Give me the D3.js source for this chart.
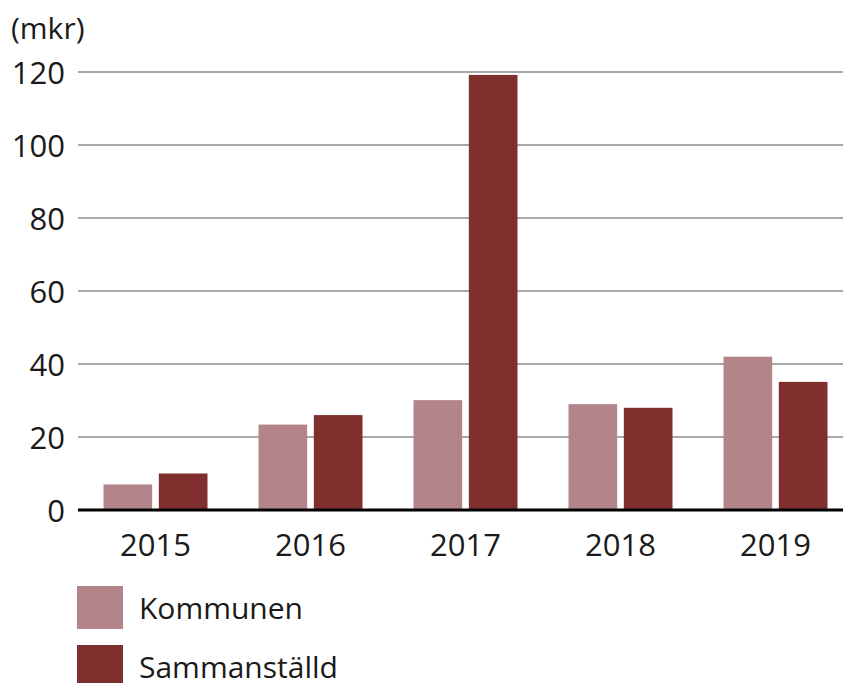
<!DOCTYPE html>
<html>
<head>
<meta charset="utf-8">
<script src="https://cdn.jsdelivr.net/npm/d3@7"></script>
<style>
  body { margin: 0; background: #fff; }
  text { font-family: "Open Sans", sans-serif; fill: #1a1a1a; }
</style>
</head>
<body>
<svg id="chart" width="843" height="683"></svg>
<script>
var svg = d3.select("#chart");

var width = +svg.attr("width");
var height = +svg.attr("height");

// data
var years = ["2015", "2016", "2017", "2018", "2019"];
var kommunen = [7, 23.4, 30.1, 29, 42];
var sammanstalld = [10, 26, 119.2, 28, 35.1];
var seriesNames = ["Kommunen", "Sammanställd"];
var yTicks = [0, 20, 40, 60, 80, 100, 120];

var colors = ["#b38489", "#7f2f2d"];

var left = 78;
var bandWidth = 155;

var xScale = d3.scaleBand()
  .domain(years)
  .range([left, left + bandWidth * years.length])
  .paddingInner(0)
  .paddingOuter(0);

var yScale = d3.scaleLinear()
  .domain([0, 120])
  .range([510, 72]);

// inner scale for the two bars in each year
var subScale = d3.scaleBand()
  .domain(seriesNames)
  .range([25.5, bandWidth - 25.5])
  .paddingInner(0.12);

//gridlines
svg.append("g")
  .selectAll("line")
  .data(yTicks.filter(function (d) { return d > 0; }))
  .enter().append("line")
  .attr("x1", left)
  .attr("x2", width)
  .attr("y1", function (d) { return yScale(d); })
  .attr("y2", function (d) { return yScale(d); })
  .attr("stroke", "#555")
  .attr("stroke-width", 1.2);

//y tick labels
svg.append("g")
  .selectAll("text")
  .data(yTicks)
  .enter().append("text")
  .attr("x", 65)
  .attr("y", function (d) { return yScale(d) + 12; })
  .attr("text-anchor", "end")
  .style("font-size", "31px")
  .text(function (d) { return d; });

svg.append("text")
  .attr("x", 11)
  .attr("y", 39)
  .style("font-size", "30px")
  .text("(mkr)");

// bars
var rows = years.map(function (y, i) {
  return { year: y, values: [kommunen[i], sammanstalld[i]] };
});

var groups = svg.append("g")
  .selectAll("g")
  .data(rows)
  .enter().append("g")
  .attr("transform", function (d) { return "translate(" + xScale(d.year) + ",0)"; });

groups.selectAll("rect")
  .data(function (d) { return d.values.map(function (v, j) { return { name: seriesNames[j], value: v, idx: j }; }); })
  .enter().append("rect")
  .attr("x", function (d) { return subScale(d.name); })
  .attr("width", subScale.bandwidth())
  .attr("y", function (d) { return yScale(d.value); })
  .attr("height", function (d) { return yScale(0) - yScale(d.value); })
  .attr("fill", function (d) { return colors[d.idx]; });

//baseline
svg.append("line")
  .attr("x1", left)
  .attr("x2", width)
  .attr("y1", yScale(0))
  .attr("y2", yScale(0))
  .attr("stroke", "#000")
  .attr("stroke-width", 3);

//x axis labels
var bottomAxis = d3.axisBottom(xScale).tickSize(0).tickPadding(0);
var xAxis = svg.append("g")
  .attr("transform", "translate(0," + (yScale(0) + 46) + ")")
  .call(bottomAxis);
xAxis.select(".domain").remove();
xAxis.selectAll("text")
  .attr("dy", 0)
  .attr("y", 0)
  .style("font-family", "\"Open Sans\", sans-serif")
  .style("font-size", "31px")
  .style("fill", "#1a1a1a");

// legend
var legend = svg.append("g")
  .selectAll("g")
  .data(seriesNames)
  .enter().append("g")
  .attr("transform", function (d, i) { return "translate(77," + (586 + i * 59) + ")"; });

legend.append("rect")
  .attr("width", 46)
  .attr("height", 43)
  .attr("fill", function (d, i) { return colors[i]; });

legend.append("text")
  .attr("x", 62)
  .attr("y", 33)
  .style("font-size", "30px")
  .text(function (d) { return d; });
</script>
</body>
</html>
